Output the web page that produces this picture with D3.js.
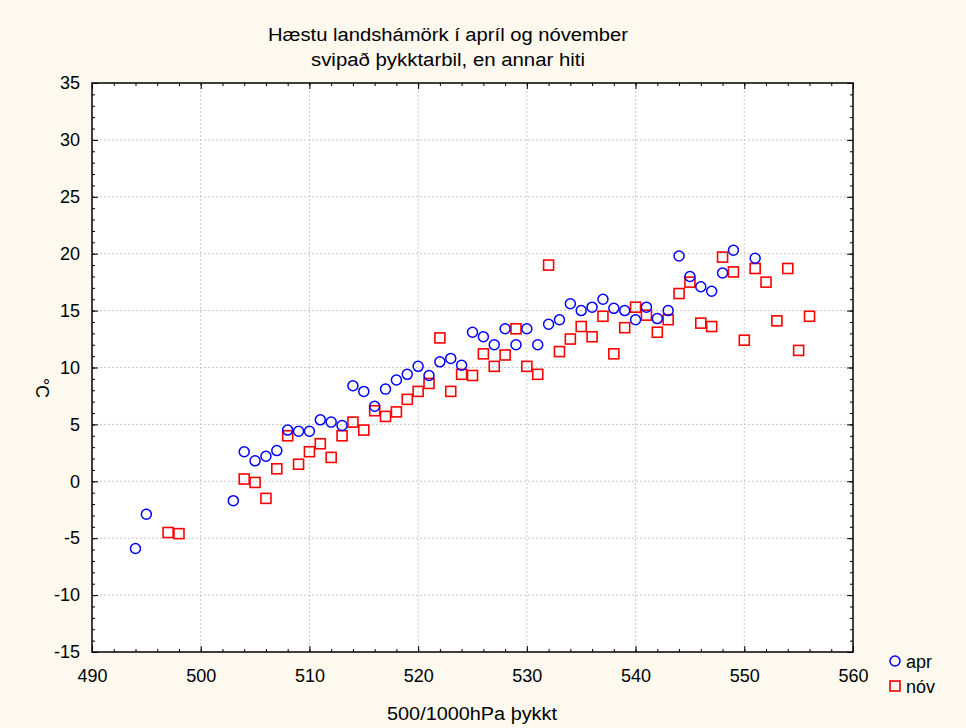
<!DOCTYPE html>
<html>
<head>
<meta charset="utf-8">
<script src="https://cdn.jsdelivr.net/npm/d3@7"></script>
<style>
  body { margin: 0; background: #fdf9ee; }
  svg { display: block; font-family: "Liberation Sans", Arial, sans-serif; }
</style>
</head>
<body>
<svg id="chart"></svg>
<script>
// data
var aprX = [494,495,503,504,505,506,507,508,509,510,511,512,513,514,515,516,517,518,519,520,521,522,523,524,525,526,527,528,529,530,531,532,533,534,535,536,537,538,539,540,541,542,543,544,545,546,547,548,549,551];
var aprY = [-5.9,-2.9,-1.7,2.6,1.8,2.2,2.7,4.5,4.4,4.4,5.4,5.2,4.9,8.4,7.9,6.6,8.1,8.9,9.4,10.1,9.3,10.5,10.8,10.2,13.1,12.7,12.0,13.4,12.0,13.4,12.0,13.8,14.2,15.6,15.0,15.3,16.0,15.2,15.0,14.2,15.3,14.3,15.0,19.8,18.0,17.1,16.7,18.3,20.3,19.6];
var novX = [497,498,504,505,506,507,508,509,510,511,512,513,514,515,516,517,518,519,520,521,522,523,524,525,526,527,528,529,530,531,532,533,534,535,536,537,538,539,540,541,542,543,544,545,546,547,548,549,550,551,552,553,554,555,556];
var novY = [-4.5,-4.6,0.2,-0.1,-1.5,1.1,4.0,1.5,2.6,3.3,2.1,4.0,5.2,4.5,6.2,5.7,6.1,7.2,7.9,8.6,12.6,7.9,9.4,9.3,11.2,10.1,11.1,13.4,10.1,9.4,19.0,11.4,12.5,13.6,12.7,14.5,11.2,13.5,15.3,14.6,13.1,14.2,16.5,17.5,13.9,13.6,19.7,18.4,12.4,18.7,17.5,14.1,18.7,11.5,14.5];
var xTicks = [490,500,510,520,530,540,550,560];
var yTicks = [-15,-10,-5,0,5,10,15,20,25,30,35];
var titleLines = ["Hæstu landshámörk í apríl og nóvember", "svipað þykktarbil, en annar hiti"];

var width = 966, height = 728;
var pLeft = 92, pRight = 853, pTop = 83, pBottom = 652;
var font = "Liberation Sans, Arial, sans-serif";

var svg = d3.select("#chart").attr("width", width).attr("height", height);

var x = d3.scaleLinear().domain([490, 560]).range([pLeft, pRight]);
var y = d3.scaleLinear().domain([-15, 35]).range([pBottom, pTop]);

svg.append("rect")
    .attr("x", pLeft).attr("y", pTop)
    .attr("width", pRight - pLeft).attr("height", pBottom - pTop)
    .attr("fill", "#fff");

// dotted grid
var grid = svg.append("g").attr("stroke", "#c8c8c8").attr("stroke-dasharray", "2,2");
grid.selectAll(".gx").data(xTicks.slice(1, -1)).enter().append("line")
    .attr("x1", function(d) { return x(d); }).attr("x2", function(d) { return x(d); })
    .attr("y1", pTop).attr("y2", pBottom);
grid.selectAll(".gy").data(yTicks.slice(1, -1)).enter().append("line")
    .attr("y1", function(d) { return y(d); }).attr("y2", function(d) { return y(d); })
    .attr("x1", pLeft).attr("x2", pRight);

function ticked(g) {
  g.select(".domain").remove();
  g.selectAll("line").attr("stroke", "#000");
  g.selectAll("text").attr("font-size", 18).attr("fill", "#000").attr("font-family", font);
}
// plain hyphen for negatives, like the original
var fmt = function(d) { return String(d); };

var xMinor = d3.range(490, 561, 2), yMinor = d3.range(-15, 36, 1);

// inward ticks on all four sides
svg.append("g").attr("transform", "translate(0," + pBottom + ")")
    .call(d3.axisBottom(x).tickValues(xMinor).tickSize(-3).tickFormat("")).call(ticked);
svg.append("g").attr("transform", "translate(0," + pBottom + ")")
    .call(d3.axisBottom(x).tickValues(xTicks).tickSize(-6).tickPadding(17).tickFormat(fmt)).call(ticked);
svg.append("g").attr("transform", "translate(0," + pTop + ")")
    .call(d3.axisTop(x).tickValues(xMinor).tickSize(-3).tickFormat("")).call(ticked);
svg.append("g").attr("transform", "translate(0," + pTop + ")")
    .call(d3.axisTop(x).tickValues(xTicks).tickSize(-6).tickFormat("")).call(ticked);

svg.append("g").attr("transform", "translate(" + pLeft + ",0)")
    .call(d3.axisLeft(y).tickValues(yMinor).tickSize(-3).tickFormat("")).call(ticked);
svg.append("g").attr("transform", "translate(" + pLeft + ",0)")
    .call(d3.axisLeft(y).tickValues(yTicks).tickSize(-6).tickPadding(12).tickFormat(fmt)).call(ticked);
svg.append("g").attr("transform", "translate(" + pRight + ",0)")
    .call(d3.axisRight(y).tickValues(yMinor).tickSize(-3).tickFormat("")).call(ticked);
svg.append("g").attr("transform", "translate(" + pRight + ",0)")
    .call(d3.axisRight(y).tickValues(yTicks).tickSize(-6).tickFormat("")).call(ticked);

svg.append("rect")
    .attr("x", pLeft).attr("y", pTop)
    .attr("width", pRight - pLeft).attr("height", pBottom - pTop)
    .attr("fill", "none").attr("stroke", "#000").attr("stroke-width", 1.5);

// points
var apr = aprX.map(function(d, i) { return [d, aprY[i]]; });
var nov = novX.map(function(d, i) { return [d, novY[i]]; });

svg.append("g").selectAll("rect").data(nov).enter().append("rect")
    .attr("x", function(d) { return x(d[0]) - 5; })
    .attr("y", function(d) { return y(d[1]) - 5; })
    .attr("width", 10).attr("height", 10)
    .attr("fill", "none").attr("stroke", "#ff0000").attr("stroke-width", 1.6);

svg.append("g").selectAll("circle").data(apr).enter().append("circle")
    .attr("cx", function(d) { return x(d[0]); })
    .attr("cy", function(d) { return y(d[1]); })
    .attr("r", 5)
    .attr("fill", "none").attr("stroke", "#0000ff").attr("stroke-width", 1.5);

// titles and labels
var titleLen = [360, 274];
svg.selectAll(".title").data(titleLines).enter().append("text")
    .attr("x", 448).attr("y", function(d, i) { return 41 + i * 25; })
    .attr("text-anchor", "middle").attr("font-size", 18)
    .attr("textLength", function(d, i) { return titleLen[i]; })
    .attr("lengthAdjust", "spacingAndGlyphs")
    .text(function(d) { return d; });

svg.append("text").attr("x", 472).attr("y", 720)
    .attr("text-anchor", "middle").attr("font-size", 18)
    .attr("textLength", 170).attr("lengthAdjust", "spacingAndGlyphs")
    .text("500/1000hPa þykkt");

svg.append("text")
    .attr("transform", "translate(36,388) rotate(90)")
    .attr("text-anchor", "middle").attr("font-size", 18)
    .text("°C");

// legend
var legend = svg.append("g");
legend.append("circle").attr("cx", 895).attr("cy", 661).attr("r", 5)
    .attr("fill", "none").attr("stroke", "#0000ff").attr("stroke-width", 1.5);
legend.append("text").attr("x", 906).attr("y", 668).attr("font-size", 18).text("apr");
legend.append("rect").attr("x", 890).attr("y", 681).attr("width", 10).attr("height", 10)
    .attr("fill", "none").attr("stroke", "#ff0000").attr("stroke-width", 1.6);
legend.append("text").attr("x", 906).attr("y", 693).attr("font-size", 18).text("nóv");
</script>
</body>
</html>
